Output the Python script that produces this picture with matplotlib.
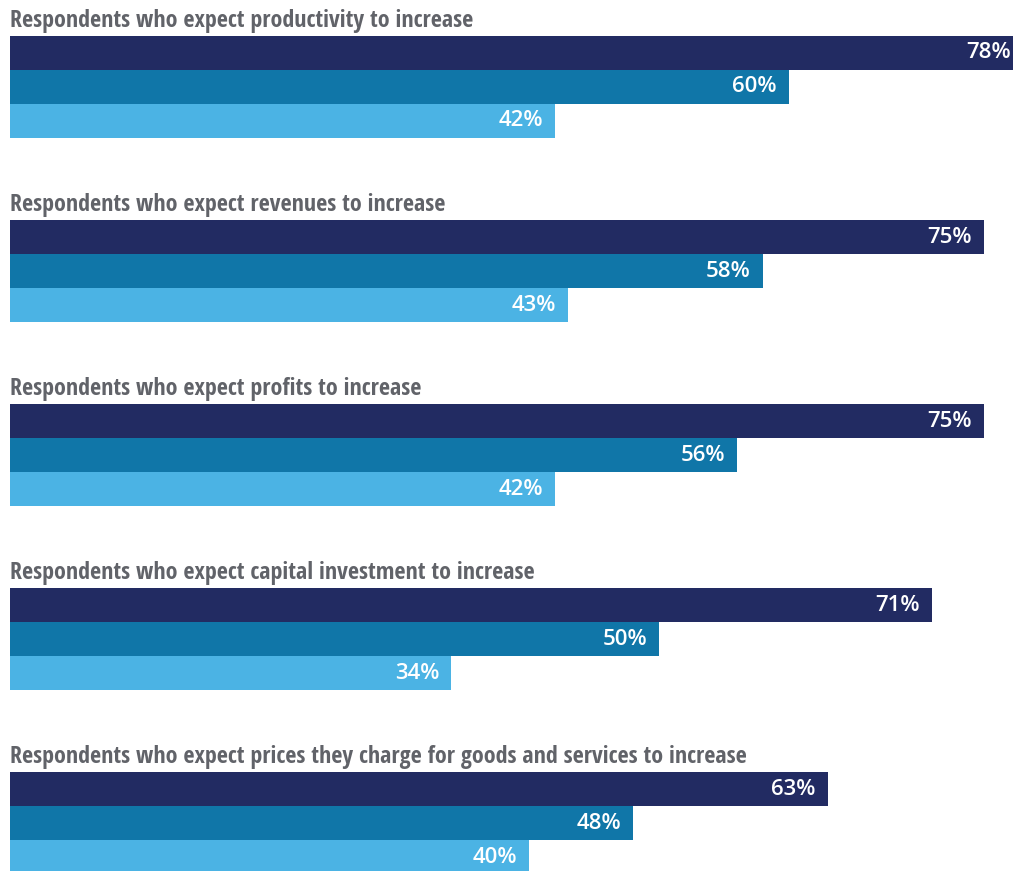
import matplotlib.pyplot as plt

# chart data
titles = [
    "Respondents who expect productivity to increase",
    "Respondents who expect revenues to increase",
    "Respondents who expect profits to increase",
    "Respondents who expect capital investment to increase",
    "Respondents who expect prices they charge for goods and services to increase",
]
series_a = [78, 75, 75, 71, 63]
series_b = [60, 58, 56, 50, 48]
series_c = [42, 43, 42, 34, 40]
colors = ["#222B62", "#1076A8", "#4BB3E4"]

# layout in pixels
W, H = 1013, 871
px_per_pct = 12.98
left_px = 10
bar_h = 34
first_top = 36
group_step = 184

fig = plt.figure(figsize=(W / 100, H / 100), dpi=100)
ax = fig.add_axes([0, 0, 1, 1])
ax.set_xlim(-left_px / px_per_pct, (W - left_px) / px_per_pct)
ax.set_ylim(H, 0)
ax.axis("off")

for i, title in enumerate(titles):
    top = first_top + i * group_step
    vals = [series_a[i], series_b[i], series_c[i]]
    for j, v in enumerate(vals):
        y = top + j * bar_h + bar_h / 2
        ax.barh(y, v, height=bar_h, color=colors[j], linewidth=0)
        # value label sits inside the bar end
        ax.annotate(f"{v}%", xy=(v, y), xytext=(-12, 0), textcoords="offset pixels",
                    ha="right", va="center", color="white", fontsize=16,
                    family=["Open Sans", "DejaVu Sans"], weight="semibold",
                    annotation_clip=False)
    ax.text(0, top - 9, title, ha="left", va="baseline", color="#616369",
            fontsize=17.3, family=["Open Sans Condensed", "Roboto", "DejaVu Sans"],
            weight="bold")

fig.savefig("out.png", dpi=100)
